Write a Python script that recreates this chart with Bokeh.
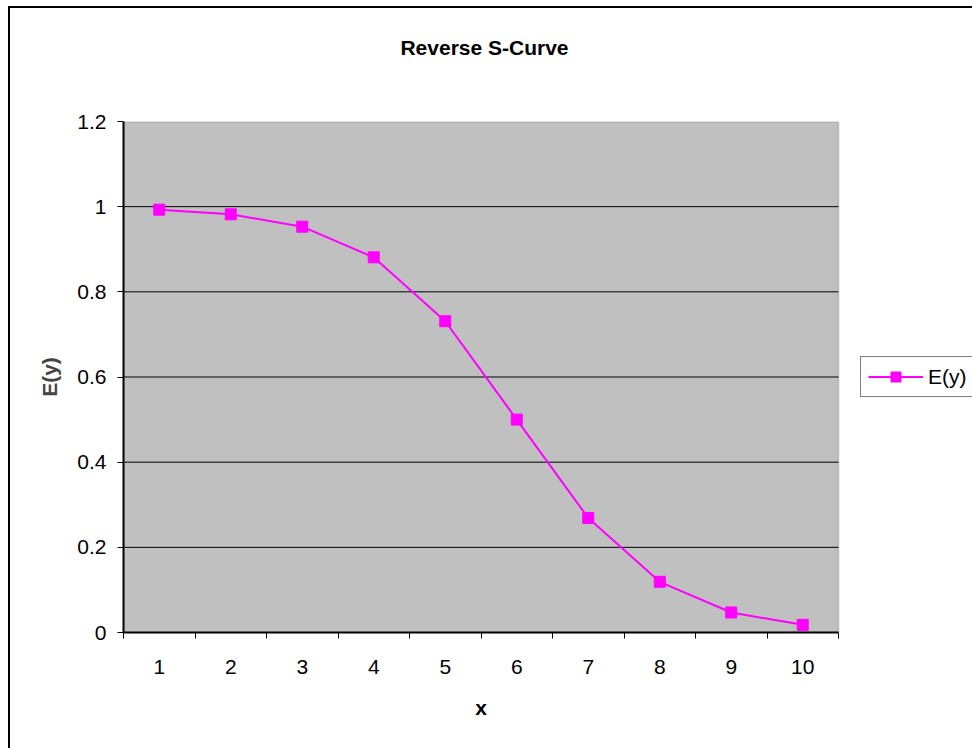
from bokeh.plotting import figure
from bokeh.models import (FixedTicker, CustomJSTickFormatter, Legend, LegendItem, Range1d,
                          BoxAnnotation, LinearAxis)
from bokeh.embed import file_html
from bokeh.resources import INLINE

# ---- data ----
x_vals = [1, 2, 3, 4, 5, 6, 7, 8, 9, 10]
ey_vals = [0.993, 0.982, 0.953, 0.881, 0.731, 0.500, 0.269, 0.119, 0.047, 0.018]
x_bounds = [0.5, 1.5, 2.5, 3.5, 4.5, 5.5, 6.5, 7.5, 8.5, 9.5, 10.5]
y_ticks = [0, 0.2, 0.4, 0.6, 0.8, 1.0, 1.2]
y_grid = [0.2, 0.4, 0.6, 0.8, 1.0]
title_text = "Reverse S-Curve"
series_name = "E(y)"
x_title = "x"
y_title = "E(y)"

FONT = "Liberation Sans"
FS = "21px"

# ---- layout geometry (pixels) ----
W, H = 972, 748
PLOT_L, PLOT_R = 123, 838       # grey plot area, left/right
PLOT_T, PLOT_B = 121, 632       # grey plot area, top/bottom
TITLE_CX = 484                  # title centre (pixels)
px_per_unit = (PLOT_R - PLOT_L) / (x_bounds[-1] - x_bounds[0])
x_end = x_bounds[-1] + (W - PLOT_R) / px_per_unit   # frame extends right to host the legend
x_mid = (x_bounds[0] + x_bounds[-1]) / 2
title_x = x_bounds[0] + (TITLE_CX - PLOT_L) / px_per_unit

p = figure(width=W, height=H, output_backend="svg", toolbar_location=None, title_location=None,
           x_range=Range1d(x_bounds[0], x_end), y_range=Range1d(y_ticks[0], y_ticks[-1]),
           min_border_left=PLOT_L, min_border_right=0,
           min_border_top=PLOT_T, min_border_bottom=H - PLOT_B)

p.background_fill_color = None
p.border_fill_color = None
p.outline_line_color = None
p.styles = {
    "background": "linear-gradient(#000,#000) 8px 6px / 2px calc(100% - 6px) no-repeat, "
                  "linear-gradient(#000,#000) 8px 6px / calc(100% - 8px) 2px no-repeat, #fff"
}

# grey plot area
area = BoxAnnotation(left=x_bounds[0], right=x_bounds[-1], bottom=y_ticks[0], top=y_ticks[-1],
                     fill_color="#C0C0C0", fill_alpha=1.0,
                     line_color="#808080", line_width=2, level="image")
p.add_layout(area)

# grid (horizontal lines limited to the grey area)
p.xgrid.visible = False
p.ygrid.visible = False
p.segment(x0=[x_bounds[0]] * len(y_grid), x1=[x_bounds[-1]] * len(y_grid),
          y0=y_grid, y1=y_grid, line_color="black", line_width=1, level="underlay")

# x axis
xa = p.xaxis[0]
xa.bounds = (x_bounds[0], x_bounds[-1])
xa.ticker = FixedTicker(ticks=x_vals, minor_ticks=x_bounds)
xa.major_tick_out = 0
xa.major_tick_in = 0
xa.minor_tick_out = 6
xa.minor_tick_in = 0
xa.minor_tick_line_color = "black"
xa.axis_line_width = 2
xa.axis_line_color = "black"
xa.major_label_text_font = FONT
xa.major_label_text_font_size = FS
xa.major_label_text_color = "black"
xa.major_label_standoff = 21


def text_axis(label, std):
    ax = LinearAxis(ticker=FixedTicker(ticks=[0]),
                    formatter=CustomJSTickFormatter(args=dict(t=label), code="return t;"))
    ax.axis_line_color = None
    ax.major_tick_line_color = None
    ax.minor_tick_line_color = None
    ax.major_tick_out = 0
    ax.major_tick_in = 0
    ax.major_label_text_font = FONT
    ax.major_label_text_font_size = FS
    ax.major_label_text_font_style = "bold"
    ax.major_label_text_color = "black"
    ax.major_label_standoff = std
    return ax


# x-axis title, centred on the grey area
xlab = text_axis(x_title, 19)
xlab.ticker = FixedTicker(ticks=[x_mid])
p.add_layout(xlab, "below")

# chart title
tlab = text_axis(title_text, 63)
tlab.ticker = FixedTicker(ticks=[title_x])
p.add_layout(tlab, "above")

# y axis
ya = p.yaxis[0]
ya.ticker = FixedTicker(ticks=y_ticks)
ya.formatter = CustomJSTickFormatter(code="return (Math.round(tick*10)/10).toString();")
ya.major_tick_out = 6
ya.major_tick_in = 0
ya.minor_tick_line_color = None
ya.axis_line_width = 2
ya.axis_line_color = "black"
ya.major_label_text_font = FONT
ya.major_label_text_font_size = FS
ya.major_label_text_color = "black"
ya.major_label_standoff = 11
ya.axis_label = y_title
ya.axis_label_text_font = FONT
ya.axis_label_text_font_size = FS
ya.axis_label_text_font_style = "bold"
ya.axis_label_standoff = 13

# series
ln = p.line(x_vals, ey_vals, line_color="#FF00FF", line_width=2)
sc = p.scatter(x_vals, ey_vals, marker="square", size=11, fill_color="#FF00FF", line_color="#FF00FF")

legend = Legend(items=[LegendItem(label=series_name, renderers=[ln, sc])],
                location=(860 - PLOT_L, PLOT_B - 397), margin=0, padding=7, glyph_width=55,
                glyph_height=25, label_height=25, label_standoff=5,
                label_text_font=FONT, label_text_font_size=FS, label_text_color="black",
                border_line_color="black", border_line_width=1,
                background_fill_color="white")
p.add_layout(legend, "center")

open("out.html", "w").write(file_html(p, INLINE))
